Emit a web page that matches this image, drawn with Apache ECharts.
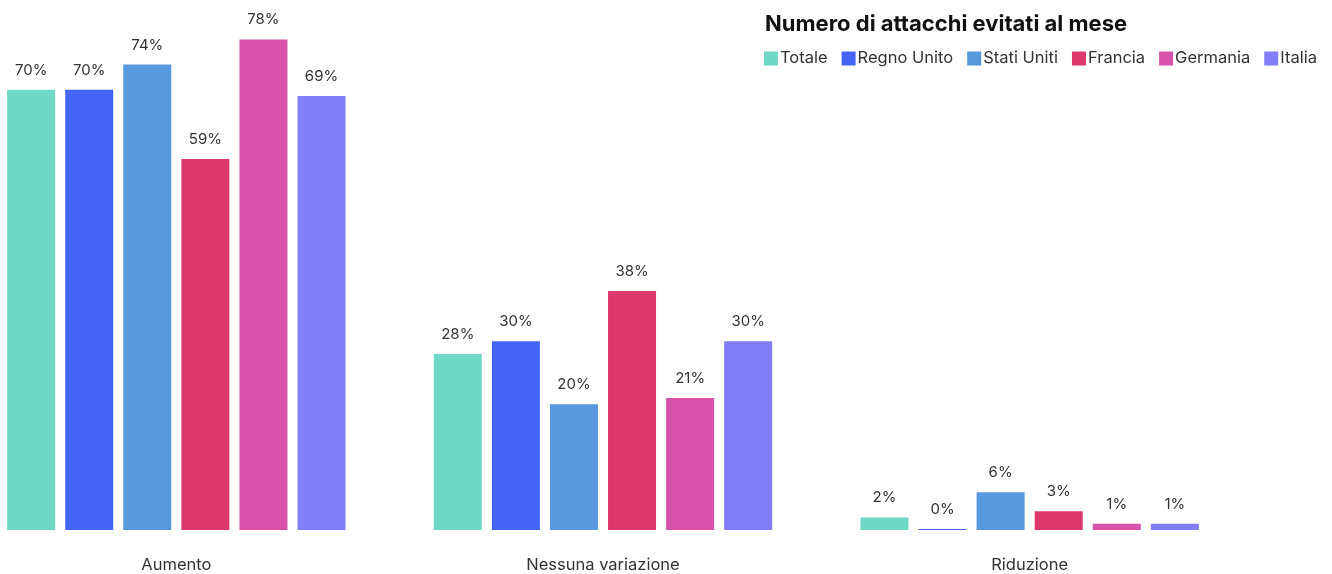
<!DOCTYPE html>
<html><head><meta charset="utf-8">
<script src="https://cdn.jsdelivr.net/npm/echarts@6/dist/echarts.min.js"></script>
<style>html,body{margin:0;padding:0;background:#fff;overflow:hidden;width:1332px;height:574px}#c{width:1369px;height:574px;margin-left:-37px}</style>
</head><body><div id="c"></div>
<script>
const categories = ['Aumento', 'Nessuna variazione', 'Riduzione'];
const seriesNames = ['Totale', 'Regno Unito', 'Stati Uniti', 'Francia', 'Germania', 'Italia'];
const totale = [70, 28, 2];
const regnoUnito = [70, 30, 0];
const statiUniti = [74, 20, 6];
const francia = [59, 38, 3];
const germania = [78, 21, 1];
const italia = [69, 30, 1];
const colors = ['#6fd9c5', '#4563f5', '#5799dc', '#db386c', '#d653a9', '#837ef7'];
const allValues = [totale, regnoUnito, statiUniti, francia, germania, italia];
const FONT = 'Inter, "Noto Sans", sans-serif';
const SHIFT = 37;

const chart = echarts.init(document.getElementById('c'));
chart.setOption({
  animation: false,
  color: colors,
  title: {
    text: 'Numero di attacchi evitati al mese',
    left: 760 + SHIFT, top: 8,
    textStyle: {fontFamily: FONT, fontSize: 22, fontWeight: 'bold', color: '#111'}
  },
  legend: {
    left: 764 + SHIFT, top: 50, padding: 0,
    itemWidth: 14, itemHeight: 14, itemGap: 14,
    icon: 'rect',
    textStyle: {fontFamily: FONT, fontSize: 16.5, color: '#333', padding: [0, 0, 0, -3]},
    data: seriesNames
  },
  grid: {left: 0, width: 1280, top: 25, bottom: 43, containLabel: false},
  xAxis: {
    type: 'category', data: categories,
    axisLine: {show: false}, axisTick: {show: false},
    axisLabel: {fontFamily: FONT, fontSize: 16.5, color: '#333', margin: 27}
  },
  yAxis: {type: 'value', min: 0, max: 80.3, show: false, splitLine: {show: false}},
  series: seriesNames.map((n, i) => ({
    name: n, type: 'bar', data: allValues[i],
    barWidth: 48, barGap: '21%', barMinHeight: 1,
    label: {show: true, position: 'top', distance: 12, formatter: '{c}%',
      fontFamily: FONT, fontSize: 15, color: '#333'}
  }))
});
</script></body></html>
